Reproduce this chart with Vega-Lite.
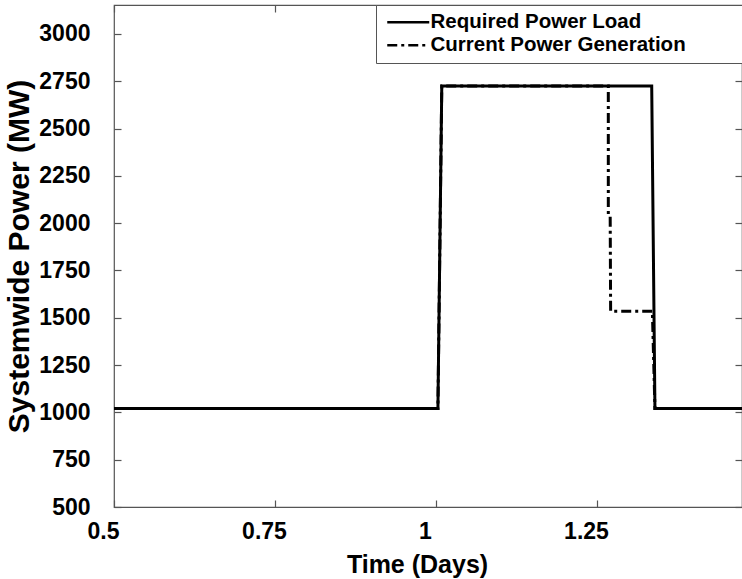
{
  "$schema": "https://vega.github.io/schema/vega-lite/v6.json",
  "width": 628,
  "height": 502,
  "autosize": {"type": "none"},
  "padding": {"left": 114, "top": 5, "right": 0, "bottom": 72},
  "background": "white",
  "config": {
    "font": "Liberation Sans",
    "view": {"stroke": "#555", "strokeWidth": 1.2},
    "axis": {
      "labelFont": "Liberation Sans", "labelFontWeight": "bold", "labelColor": "black", "labelFontSize": 23,
      "titleFont": "Liberation Sans", "titleFontWeight": "bold", "titleColor": "black", "titleFontSize": 25,
      "grid": false, "domain": false, "tickColor": "#555", "tickSize": 7, "tickWidth": 1.2, "offset": -7,
      "labelFlush": false, "labelOverlap": false
    },
    "legend": {
      "labelFont": "Liberation Sans", "labelFontWeight": "bold", "labelColor": "black", "labelFontSize": 20.5
    }
  },
  "data": {"values": [
    {"series": "Required Power Load", "t": 0.5, "p": 1020},
    {"series": "Required Power Load", "t": 1.003, "p": 1020},
    {"series": "Required Power Load", "t": 1.009, "p": 2725},
    {"series": "Required Power Load", "t": 1.335, "p": 2725},
    {"series": "Required Power Load", "t": 1.340, "p": 1020},
    {"series": "Required Power Load", "t": 1.4752, "p": 1020},
    {"series": "Current Power Generation", "t": 0.5, "p": 1020},
    {"series": "Current Power Generation", "t": 1.003, "p": 1020},
    {"series": "Current Power Generation", "t": 1.009, "p": 2725},
    {"series": "Current Power Generation", "t": 1.2676, "p": 2725},
    {"series": "Current Power Generation", "t": 1.2676, "p": 2045},
    {"series": "Current Power Generation", "t": 1.2705, "p": 2040},
    {"series": "Current Power Generation", "t": 1.2712, "p": 1535},
    {"series": "Current Power Generation", "t": 1.336, "p": 1535},
    {"series": "Current Power Generation", "t": 1.340, "p": 1020},
    {"series": "Current Power Generation", "t": 1.4752, "p": 1020}
  ]},
  "layer": [
    {
      "mark": {"type": "line", "color": "black", "strokeWidth": 3, "strokeJoin": "miter"},
      "encoding": {
        "x": {"field": "t", "type": "quantitative", "scale": {"domain": [0.5, 1.4752], "nice": false, "zero": false},
              "axis": {"orient": "bottom", "values": [0.5, 0.75, 1, 1.25], "format": ".4~g", "title": "Time (Days)", "labelPadding": 13, "labelOffset": -11, "titlePadding": 9, "titleX": 303}},
        "y": {"field": "p", "type": "quantitative", "scale": {"domain": [500, 3153], "nice": false, "zero": false},
              "axis": {"orient": "left", "values": [500, 750, 1000, 1250, 1500, 1750, 2000, 2250, 2500, 2750, 3000], "format": "d", "title": "Systemwide Power (MW)", "titleFontSize": 30, "labelPadding": 24, "titlePadding": 4}},
        "detail": {"field": "series"},
        "strokeDash": {"field": "series", "type": "nominal",
          "scale": {"domain": ["Required Power Load", "Current Power Generation"], "range": [[1, 0], [10, 4, 3, 4]]},
          "legend": {"title": ".", "titleOrient": "right", "titlePadding": 50, "titleColor": "rgba(0,0,0,0)", "titleFontSize": 10,
                     "orient": "none", "legendX": 262, "legendY": 0, "symbolType": "M-2.8,0H2.8", "symbolSize": 225,
                     "symbolStrokeWidth": 2.5, "symbolStrokeColor": "black", "symbolOffset": 15, "labelOffset": 12, "rowPadding": 2,
                     "padding": 7, "strokeColor": "#555", "fillColor": "white", "labelLimit": 1000}}
      }
    },
    {
      "mark": {"type": "line", "opacity": 0},
      "encoding": {
        "x": {"field": "t", "type": "quantitative", "axis": {"orient": "top", "values": [0.5, 0.75, 1, 1.25], "labels": false, "title": null}},
        "y": {"field": "p", "type": "quantitative", "axis": {"orient": "right", "values": [500, 750, 1000, 1250, 1500, 1750, 2000, 2250, 2500, 2750, 3000], "labels": false, "title": null}},
        "detail": {"field": "series"}
      }
    }
  ],
  "resolve": {"axis": {"x": "independent", "y": "independent"}}
}
